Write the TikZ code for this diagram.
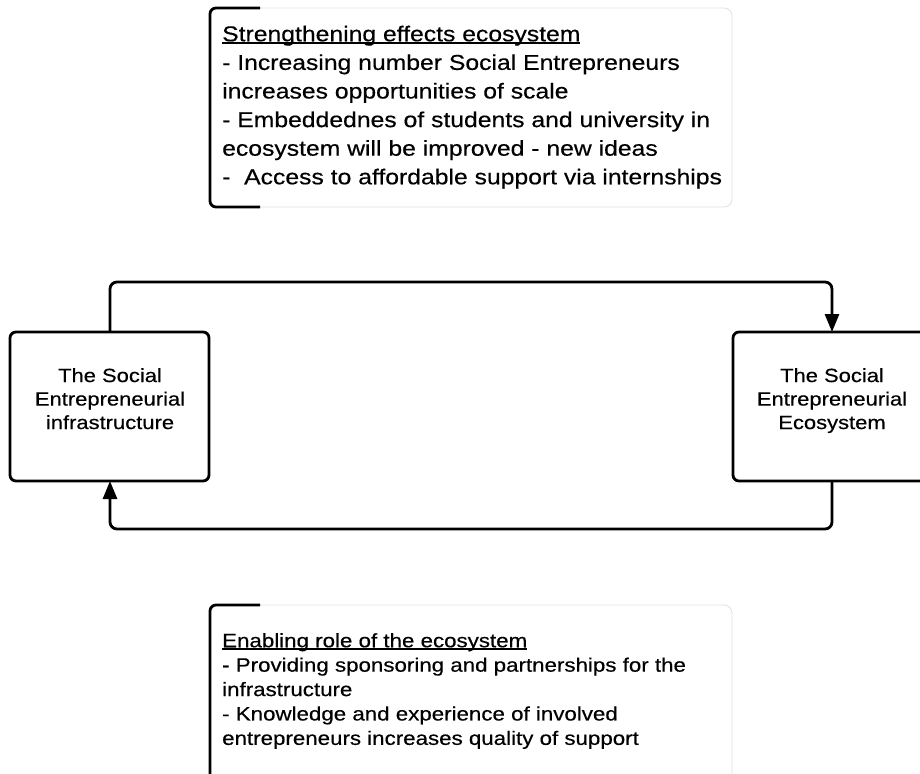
\documentclass[tikz,border=0pt]{standalone}
\usepackage{fontspec}
\setmainfont{Liberation Sans}[FakeStretch=1.15,FakeBold=0.4]
\usetikzlibrary{arrows.meta}
% underline that sits just under the baseline
\newcommand\ulinetext[1]{\setbox0\hbox{#1}\rlap{\rule[-2.6pt]{\wd0}{1.4pt}}\box0}
\begin{document}
\begin{tikzpicture}[x=1pt,y=-1pt,
  entity/.style={draw=black,line width=2.8pt,rounded corners=6pt,fill=white},
  flow/.style={draw=black,line width=2.8pt,rounded corners=7pt,-{Triangle[length=18pt,width=14pt]}},
  notebox/.style={draw=black!12,line width=0.8pt,rounded corners=8pt},
  bracket/.style={draw=black,line width=2.8pt,rounded corners=6pt},
  boxtext/.style={anchor=north,align=center,inner sep=0pt,font=\fontsize{19.1}{23.5}\selectfont},
  notetext/.style={anchor=north west,align=left,inner sep=0pt}
]
\useasboundingbox (0,0) rectangle (920,773);

% the two main entities
\draw[entity] (10,332) rectangle (209,481);
\draw[entity] (733,332) rectangle (935,481);
\node[boxtext] (infra) at (110,368) {The Social\\Entrepreneurial\\infrastructure};
\node[boxtext] (eco) at (832,368) {The Social\\Entrepreneurial\\Ecosystem};
\coordinate (infraT) at (110,332);
\coordinate (infraB) at (110,481);
\coordinate (ecoT) at (832,332);
\coordinate (ecoB) at (832,481);

% feedback loop between them
\draw[flow] (infraT) -- (110,282) -- (832,282) -- (ecoT);
\draw[flow] (ecoB) -- (832,529) -- (110,529) -- (infraB);

% upper note
\draw[notebox] (210,8) rectangle (732,207);
\draw[bracket] (260,8) -- (210,8) -- (210,207) -- (260,207);
\node[notetext,font=\fontsize{21.5}{28.6}\selectfont] (strong) at (222,25.5)
  {\ulinetext{Strengthening effects ecosystem}\\
   - Increasing number Social Entrepreneurs\\
   increases opportunities of scale\\
   - Embeddednes of students and university in\\
   ecosystem will be improved - new ideas\\
   -\ \ Access to affordable support via internships};

% lower note
\draw[notebox] (210,790) -- (210,605) -- (732,605) -- (732,790);
\draw[bracket] (260,605) -- (210,605) -- (210,790);
\node[notetext,font=\fontsize{19.4}{24.4}\selectfont] (enable) at (222,633)
  {\ulinetext{Enabling role of the ecosystem}\\
   - Providing sponsoring and partnerships for the\\
   infrastructure\\
   - Knowledge and experience of involved\\
   entrepreneurs increases quality of support};
\end{tikzpicture}
\end{document}
